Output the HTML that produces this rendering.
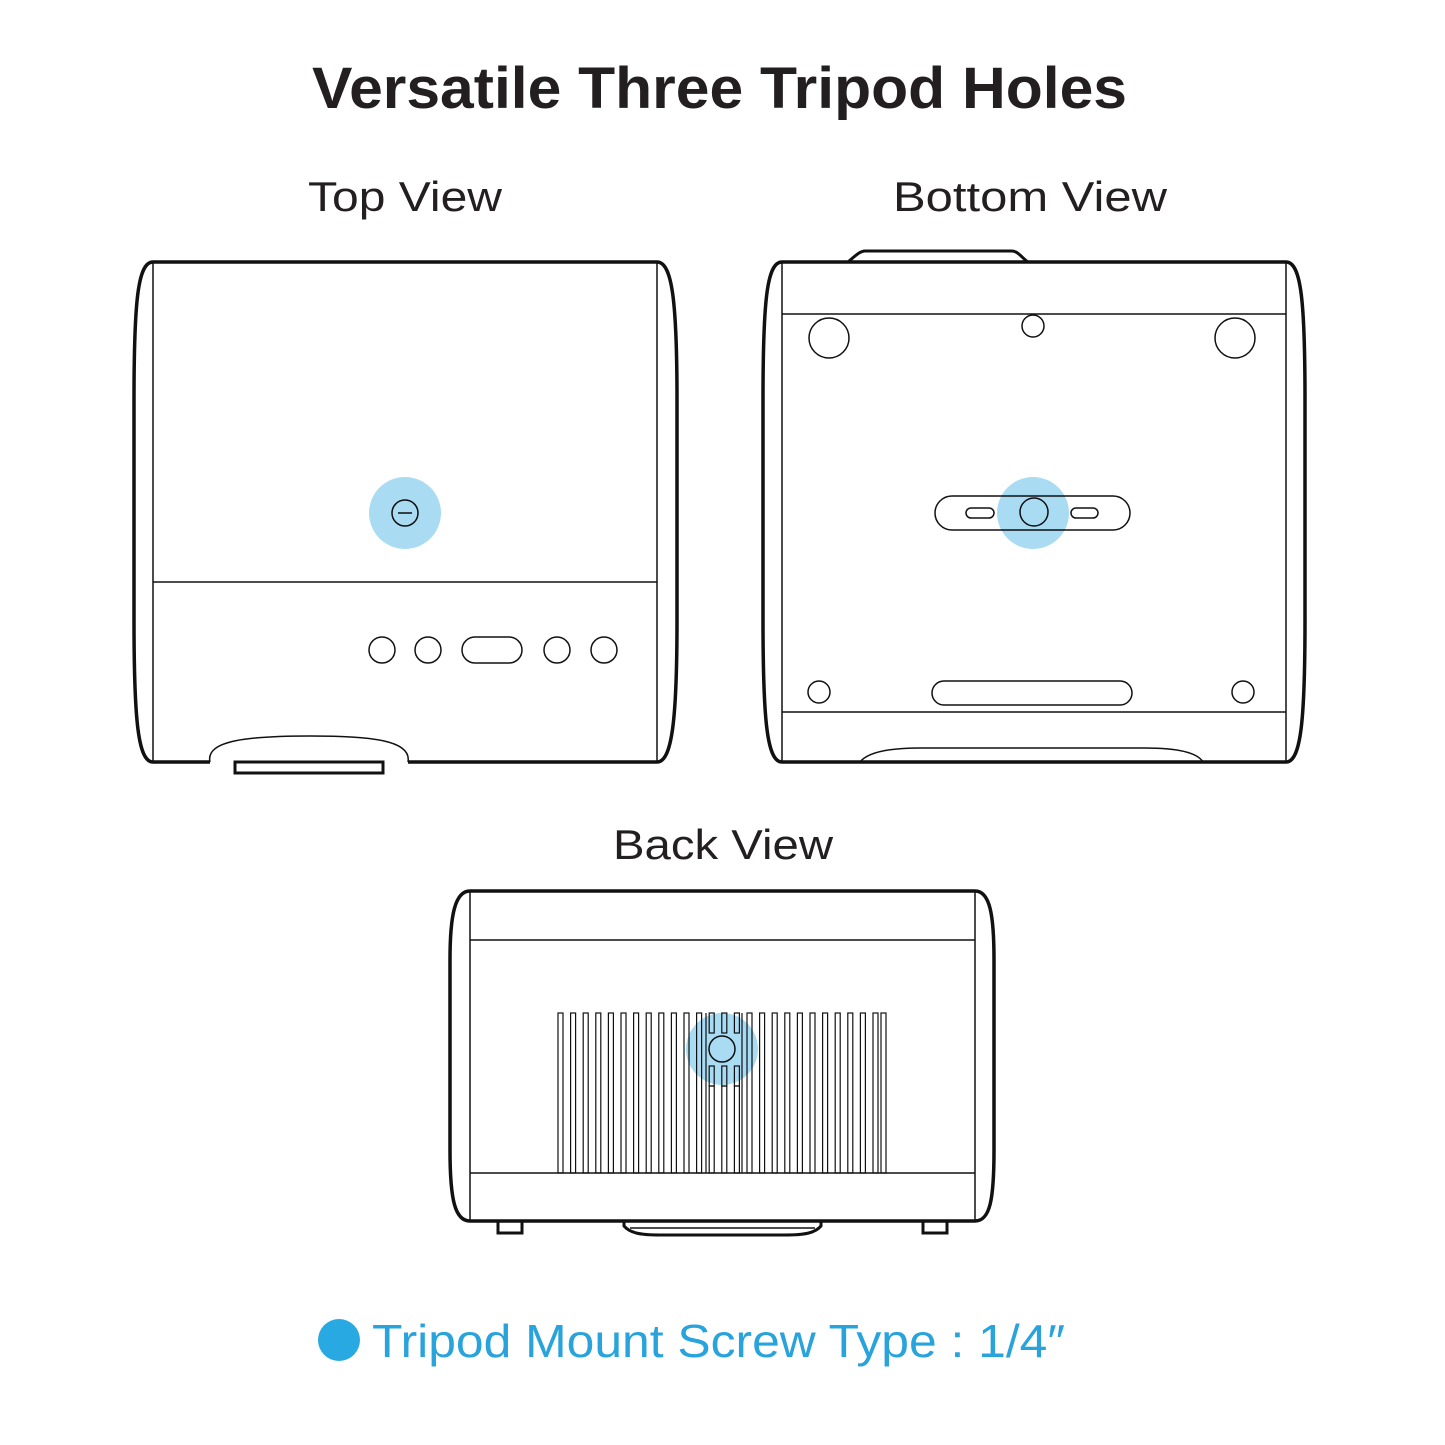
<!DOCTYPE html>
<html><head><meta charset="utf-8"><style>
html,body{margin:0;padding:0;background:#fff}
svg{display:block}
</style></head><body>
<svg width="1445" height="1445" viewBox="0 0 1445 1445" xmlns="http://www.w3.org/2000/svg">
<g font-family="Liberation Sans, sans-serif" fill="#231f20">
<text x="312" y="108" font-size="58" font-weight="bold" textLength="815" lengthAdjust="spacingAndGlyphs">Versatile Three Tripod Holes</text>
<text x="308" y="211" font-size="42" textLength="194" lengthAdjust="spacingAndGlyphs">Top View</text>
<text x="893" y="211" font-size="42" textLength="274" lengthAdjust="spacingAndGlyphs">Bottom View</text>
<text x="613" y="859" font-size="42" textLength="220" lengthAdjust="spacingAndGlyphs">Back View</text>
</g>
<g fill="none" stroke="#111" stroke-width="1.5">
<!-- TOP VIEW -->
<path d="M210,762 C205,740 250,736 310,736 C370,736 412,740 408,762" fill="#fff"/>
<path d="M235,762 L235,773 L383,773 L383,762 Z" stroke-width="3"/>
<path d="M153,262 L657,262 C672,262 677,300 677,400 L677,620 C677,720 672,762 657,762 L408,762 M210,762 L153,762 C138,762 134,720 134,620 L134,400 C134,300 138,262 153,262" stroke-width="3.5"/>
<line x1="153" y1="262" x2="153" y2="762"/>
<line x1="657" y1="262" x2="657" y2="762"/>
<line x1="153" y1="582" x2="657" y2="582"/>
<circle cx="382" cy="650" r="13"/><circle cx="428" cy="650" r="13"/>
<rect x="462" y="637" width="60" height="26" rx="13"/>
<circle cx="557" cy="650" r="13"/><circle cx="604" cy="650" r="13"/>
<circle cx="405" cy="513" r="13"/><line x1="398" y1="513" x2="412" y2="513"/>
<!-- BOTTOM VIEW -->
<path d="M848,262 C855,256 860,251 865,251 L1012,251 C1018,251 1022,258 1028,262" stroke-width="3" fill="#fff"/>
<path d="M782,262 L1286,262 C1301,262 1305,300 1305,400 L1305,620 C1305,720 1301,762 1286,762 L782,762 C767,762 763,720 763,620 L763,400 C763,300 767,262 782,262 Z" stroke-width="3.5"/>
<line x1="782" y1="262" x2="782" y2="762"/>
<line x1="1286" y1="262" x2="1286" y2="762"/>
<line x1="782" y1="314" x2="1286" y2="314"/>
<line x1="782" y1="712" x2="1286" y2="712"/>
<circle cx="829" cy="338" r="20"/><circle cx="1235" cy="338" r="20"/>
<circle cx="1033" cy="326" r="11"/>
<circle cx="819" cy="692" r="11"/><circle cx="1243" cy="692" r="11"/>
<rect x="932" y="681" width="200" height="24" rx="12"/>
<path d="M860,762 C868,752 890,748 920,748 L1145,748 C1175,748 1197,752 1203,762"/>
<rect x="935" y="496" width="195" height="34" rx="17"/>
<rect x="966" y="508" width="28" height="10" rx="5"/>
<rect x="1071" y="508" width="27" height="10" rx="5"/>
<circle cx="1034" cy="512" r="14"/>
<!-- BACK VIEW -->
<path d="M624,1221 L624,1226 C630,1233 640,1235 660,1235 L785,1235 C805,1235 815,1233 821,1226 L821,1221" stroke-width="3" fill="#fff"/>
<line x1="630" y1="1228" x2="815" y2="1228"/>
<rect x="498" y="1221" width="24" height="12" stroke-width="3"/>
<rect x="923" y="1221" width="24" height="12" stroke-width="3"/>
<path d="M470,891 L975,891 C990,891 994,915 994,960 L994,1150 C994,1200 990,1221 975,1221 L470,1221 C455,1221 450,1200 450,1150 L450,960 C450,915 455,891 470,891 Z" stroke-width="3.5"/>
<line x1="470" y1="891" x2="470" y2="1221"/>
<line x1="975" y1="891" x2="975" y2="1221"/>
<line x1="470" y1="940" x2="975" y2="940"/>
<line x1="470" y1="1173" x2="975" y2="1173"/>
<g stroke-width="1.2">
<rect x="558" y="1013" width="5" height="160"/><rect x="570.6" y="1013" width="5" height="160"/><rect x="583.2" y="1013" width="5" height="160"/><rect x="595.8" y="1013" width="5" height="160"/><rect x="608.4" y="1013" width="5" height="160"/><rect x="621" y="1013" width="5" height="160"/><rect x="633.6" y="1013" width="5" height="160"/><rect x="646.2" y="1013" width="5" height="160"/><rect x="658.8" y="1013" width="5" height="160"/><rect x="671.4" y="1013" width="5" height="160"/><rect x="684" y="1013" width="5" height="160"/><rect x="696.6" y="1013" width="5" height="160"/>
<rect x="709.2" y="1013" width="5" height="20"/><rect x="721.8" y="1013" width="5" height="20"/><rect x="734.4" y="1013" width="5" height="20"/>
<rect x="709.2" y="1066" width="5" height="20"/><rect x="721.8" y="1066" width="5" height="20"/><rect x="734.4" y="1066" width="5" height="20"/>
<line x1="706" y1="1013" x2="706" y2="1173"/><line x1="742" y1="1013" x2="742" y2="1173"/>
<rect x="709.2" y="1086" width="5" height="87"/><rect x="721.8" y="1086" width="5" height="87"/><rect x="734.4" y="1086" width="5" height="87"/>
<rect x="747" y="1013" width="5" height="160"/><rect x="759.6" y="1013" width="5" height="160"/><rect x="772.2" y="1013" width="5" height="160"/><rect x="784.8" y="1013" width="5" height="160"/><rect x="797.4" y="1013" width="5" height="160"/><rect x="810" y="1013" width="5" height="160"/><rect x="822.6" y="1013" width="5" height="160"/><rect x="835.2" y="1013" width="5" height="160"/><rect x="847.8" y="1013" width="5" height="160"/><rect x="860.4" y="1013" width="5" height="160"/><rect x="873" y="1013" width="5" height="160"/><rect x="881" y="1013" width="5" height="160"/>
</g>
<circle cx="722" cy="1049" r="13"/>
</g>
<g fill="#a9dcf2" style="mix-blend-mode:multiply">
<circle cx="405" cy="513" r="36"/>
<circle cx="1033" cy="513" r="36"/>
<circle cx="722" cy="1049" r="36"/>
</g>
<circle cx="339" cy="1340" r="21" fill="#29a9e1"/>
<text x="372" y="1357" font-family="Liberation Sans, sans-serif" font-size="46" fill="#29a3dc" textLength="693" lengthAdjust="spacingAndGlyphs">Tripod Mount Screw Type : 1/4″</text>
</svg>
</body></html>
